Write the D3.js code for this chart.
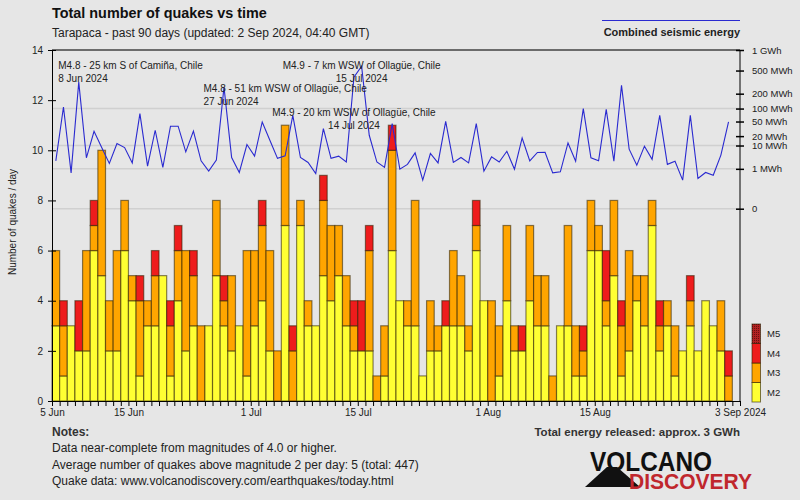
<!DOCTYPE html>
<html><head><meta charset="utf-8">
<script src="https://cdn.jsdelivr.net/npm/d3@7"></script>
<style>
html,body{margin:0;padding:0;background:#e6e6e6;}
svg{display:block;font-family:"Liberation Sans",Arial,sans-serif;}
</style></head><body>
<svg id="chart" width="800" height="500"></svg>
<script>
// ---------- data ----------
const startDate = "2024-06-05";
const endDate = "2024-09-03";
const magnitudeClasses = ["M2", "M3", "M4", "M5"];
const m2 = [3,1,3,2,2,6,5,2,2,6, 4,1,3,3,5,1,4,2,3,0, 3,5,3,2,3,1,3,4,2,0,
            7,0,7,3,3,5,4,5,3,2, 2,2,0,1,6,4,3,3,1,2, 2,3,3,3,2,6,4,0,1,4,
            2,2,4,3,3,0,3,3,1,1, 6,6,3,5,1,2,4,3,7,2, 3,1,2,3,2,4,3,2,0];
const m3 = [3,2,0,0,4,1,5,2,4,2, 1,3,1,2,0,2,2,4,2,3, 0,3,1,3,0,5,3,3,4,2,
            4,2,1,1,0,3,3,2,2,1, 0,4,1,2,4,0,1,5,0,2, 1,0,3,2,1,1,0,4,2,3,
            1,0,3,2,2,1,0,4,2,1, 2,1,1,3,2,4,1,2,1,1, 1,2,0,1,0,0,0,2,1];
const m4 = [0,1,0,2,0,1,0,0,0,0, 0,1,0,1,0,1,1,0,1,0, 0,0,1,0,0,0,0,1,0,0,
            0,1,0,0,0,1,0,0,0,1, 2,1,0,0,1,0,0,0,0,0, 0,1,0,0,0,1,0,0,0,0,
            0,1,0,0,0,0,0,0,0,1, 0,0,2,0,1,0,0,0,0,1, 0,0,0,1,0,0,0,0,1];
const m5 = new Array(89).fill(0);
const energyMWh = [2.5,108,0.59,323,3.4,27.7,8.5,1.9,11.7,8.5,
                   2.0,77,1.4,29.5,1.2,38,38,5.9,28,2.5,
                   0.74,2.7,264,3.5,0.62,10.8,4.0,48.7,14.9,3.2,
                   4.1,70.5,3.5,2.1,0.54,32.8,3.2,4.0,2.2,391,
                   584,21.2,2.2,1.2,44.4,0.96,1.7,5.4,0.19,5.1,
                   2.0,50.7,2.1,3.5,2.0,44.4,0.74,3.7,2.2,6.2,
                   0.96,17.6,2.5,5.6,5.7,0.59,0.68,12.2,2.4,99.6,
                   3.4,2.5,96,2.4,283,7.4,1.56,9.5,2.9,70.5,
                   1.7,2.4,0.19,70.5,0.25,0.62,0.42,4.4,48.7];
const countTicks = [0,2,4,6,8,10,12,14];
const energyTicks = [0,1,10,20,50,100,200,500,1000];
const energyTickLabels = ["0","1 MWh","10 MWh","20 MWh","50 MWh","100 MWh","200 MWh","500 MWh","1 GWh"];
const energyGrid = [0,1,10,100,1000];
const xTickDates = ["2024-06-05","2024-06-15","2024-07-01","2024-07-15","2024-08-01","2024-08-15","2024-09-03"];
const xTickLabels = ["5 Jun","15 Jun","1 Jul","15 Jul","1 Aug","15 Aug","3 Sep 2024"];
const annotationDates = ["2024-06-08","2024-06-27","2024-07-15","2024-07-14"];
const annotationTitles = ["M4.8 - 25 km S of Camiña, Chile","M4.8 - 51 km WSW of Ollagüe, Chile",
                          "M4.9 - 7 km WSW of Ollagüe, Chile","M4.9 - 20 km WSW of Ollagüe, Chile"];
const annotationDateLabels = ["8 Jun 2024","27 Jun 2024","15 Jul 2024","14 Jul 2024"];
const notes = ["Data near-complete from magnitudes of 4.0 or higher.",
               "Average number of quakes above magnitude 2 per day: 5 (total: 447)",
               "Quake data: www.volcanodiscovery.com/earthquakes/today.html"];

// ---------- layout ----------
const svg = d3.select("#chart");
const L = 52, R = 740, T = 50, B = 401;
const colors = ["#ffff33", "#ffa500", "#ee1c1c", "#a52020"];
const parse = d3.utcParse("%Y-%m-%d");
const day0 = parse(startDate);
const x = d3.scaleUtc().domain([day0, parse(endDate)]).range([L, R]);
const y = d3.scaleLinear().domain([0, 14]).range([B, T]);
const yE = d3.scalePow().exponent(0.2).domain([0, 1000]).range([208.7, T]);
const dayAt = i => d3.utcDay.offset(day0, i);
const midAt = i => new Date(+dayAt(i) + 12 * 3600e3);

svg.append("rect").attr("width", 800).attr("height", 500).attr("fill", "#e6e6e6");

// pattern for M5
const defs = svg.append("defs");
const pat = defs.append("pattern").attr("id", "m5pat").attr("width", 2).attr("height", 2)
  .attr("patternUnits", "userSpaceOnUse");
pat.append("rect").attr("width", 2).attr("height", 2).attr("fill", "#b22222");
pat.append("rect").attr("width", 1).attr("height", 1).attr("fill", "#6a1010");
const fills = [colors[0], colors[1], colors[2], "url(#m5pat)"];

// gridlines (energy decades)
svg.append("g").selectAll("line").data(energyGrid).join("line")
  .attr("x1", L).attr("x2", R).attr("y1", d => yE(d)).attr("y2", d => yE(d))
  .attr("stroke", "#d0d0d0").attr("stroke-width", 1.5);

// bars
const series = [m2, m3, m4, m5];
const segs = [];
m2.forEach((_, i) => {
  let base = 0;
  series.forEach((s, k) => {
    if (s[i] > 0) { segs.push({i, k, y0: base, y1: base + s[i]}); base += s[i]; }
  });
});
svg.append("g").selectAll("rect").data(segs).join("rect")
  .attr("x", d => x(dayAt(d.i)))
  .attr("width", d => x(dayAt(d.i + 1)) - x(dayAt(d.i)))
  .attr("y", d => y(d.y1))
  .attr("height", d => y(d.y0) - y(d.y1))
  .attr("fill", d => fills[d.k])
  .attr("stroke", "rgba(40,30,0,0.55)").attr("stroke-width", 1.2);

// energy line
svg.append("path").datum(energyMWh)
  .attr("fill", "none").attr("stroke", "#2a2ad0").attr("stroke-width", 1.1)
  .attr("d", d3.line().x((d, i) => x(midAt(i))).y(d => yE(d)));

// frame top
svg.append("line").attr("x1", L).attr("x2", R).attr("y1", T).attr("y2", T).attr("stroke", "#000");

// left axis
const gl = svg.append("g").attr("transform", `translate(${L},0)`)
  .call(d3.axisLeft(y).tickValues(countTicks).tickSizeInner(4).tickSizeOuter(0).tickPadding(5));
gl.selectAll(".tick line").attr("x1", 4).attr("x2", -4);
gl.selectAll("text").attr("font-size", 10).attr("fill", "#222").attr("font-family", "Liberation Sans, Arial, sans-serif");

// right axis
const gr = svg.append("g").attr("transform", `translate(${R},0)`)
  .call(d3.axisRight(yE).tickValues(energyTicks).tickFormat((d, i) => energyTickLabels[i])
    .tickSizeInner(4).tickSizeOuter(0).tickPadding(8));
gr.select(".domain").attr("d", `M0,${T}V${B}`);
gr.selectAll(".tick line").attr("x1", -4).attr("x2", 4).attr("stroke-width", 1.5);
gr.selectAll("text").attr("font-size", 9.5).attr("fill", "#222").attr("font-family", "Liberation Sans, Arial, sans-serif");

// bottom axis
const labelMap = new Map(xTickDates.map((d, i) => [+parse(d), xTickLabels[i]]));
const gb = svg.append("g").attr("transform", `translate(0,${B})`)
  .call(d3.axisBottom(x).ticks(d3.utcDay.every(1)).tickSizeInner(5).tickSizeOuter(0).tickPadding(3)
    .tickFormat(d => labelMap.get(+d) || ""));
gb.selectAll("text").attr("font-size", 10).attr("fill", "#222").attr("font-family", "Liberation Sans, Arial, sans-serif");

// y axis title
svg.append("text").attr("transform", "translate(16,222) rotate(-90)")
  .attr("text-anchor", "middle").attr("font-size", 10).attr("fill", "#222")
  .text("Number of quakes / day");

// annotations
const annRows = [0, 1, 0, 2];
const annAnchor = ["start", "start", "middle", "middle"];
annotationDates.forEach((d, i) => {
  const cx = x(new Date(+parse(d) + 12 * 3600e3));
  const ax = annAnchor[i] === "start" ? cx - 20.5 : cx;
  const by = 68.7 + annRows[i] * 23.5;
  const g = svg.append("g").attr("font-size", 10).attr("fill", "#222").attr("text-anchor", annAnchor[i]);
  g.append("text").attr("x", ax).attr("y", by).text(annotationTitles[i]);
  g.append("text").attr("x", ax).attr("y", by + 13).text(annotationDateLabels[i]);
});

// titles
svg.append("text").attr("x", L).attr("y", 18).attr("font-size", 14.4).attr("font-weight", "bold")
  .attr("fill", "#111").text("Total number of quakes vs time");
svg.append("text").attr("x", L).attr("y", 37).attr("font-size", 12).attr("fill", "#222")
  .text("Tarapaca - past 90 days (updated: 2 Sep 2024, 04:40 GMT)");

// energy legend
svg.append("line").attr("x1", 602).attr("x2", R).attr("y1", 20.5).attr("y2", 20.5)
  .attr("stroke", "#2a2ad0").attr("stroke-width", 1.1);
svg.append("text").attr("x", R).attr("y", 35.5).attr("text-anchor", "end").attr("font-size", 11)
  .attr("font-weight", "bold").attr("fill", "#222").text("Combined seismic energy");

// magnitude legend
const lg = svg.append("g");
magnitudeClasses.forEach((m, k) => {
  const yb = 402 - k * 19.5;
  lg.append("rect").attr("x", 752).attr("y", yb - 19.5).attr("width", 8.5).attr("height", 19.5)
    .attr("fill", fills[k]).attr("stroke", "rgba(40,30,0,0.6)").attr("stroke-width", 1);
  lg.append("text").attr("x", 767).attr("y", yb - 9.75).attr("dy", "0.35em")
    .attr("font-size", 9.5).attr("fill", "#222").text(m);
});

// notes
svg.append("text").attr("x", L).attr("y", 435.5).attr("font-size", 12).attr("font-weight", "bold")
  .attr("fill", "#333").text("Notes:");
notes.forEach((t, i) => {
  svg.append("text").attr("x", L).attr("y", 452 + i * 16.7).attr("font-size", 12)
    .attr("fill", "#222").text(t);
});
svg.append("text").attr("x", R).attr("y", 435.5).attr("text-anchor", "end").attr("font-size", 11.5)
  .attr("font-weight", "bold").attr("fill", "#333").text("Total energy released: approx. 3 GWh");

// logo
const logo = svg.append("g");
logo.append("path").attr("d", "M585,487 L607,467 L617,467 L640,487 Z").attr("fill", "#111");
logo.append("text").attr("x", 590).attr("y", 471).attr("font-size", 28).attr("font-weight", "bold")
  .attr("textLength", 122).attr("lengthAdjust", "spacingAndGlyphs").attr("fill", "#111").text("VOLCANO");
logo.append("text").attr("x", 629).attr("y", 489).attr("font-size", 22).attr("font-weight", "bold")
  .attr("textLength", 123).attr("lengthAdjust", "spacingAndGlyphs").attr("fill", "#c0272d").text("DISCOVERY");
</script>
</body></html>
